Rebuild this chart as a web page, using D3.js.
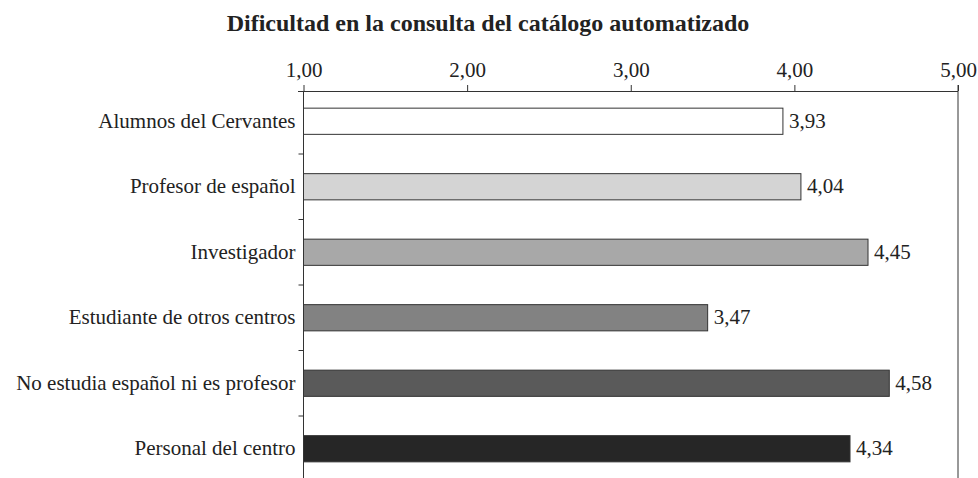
<!DOCTYPE html>
<html>
<head>
<meta charset="utf-8">
<script src="https://cdn.jsdelivr.net/npm/d3@7"></script>
<style>
  body { margin: 0; background: #fff; }
  text { font-family: "Liberation Serif", "Times New Roman", serif; fill: #222; }
</style>
</head>
<body>
<div id="chart"></div>
<script>
var categories = ["Alumnos del Cervantes", "Profesor de español", "Investigador",
                  "Estudiante de otros centros", "No estudia español ni es profesor",
                  "Personal del centro"];
var values = [3.93, 4.04, 4.45, 3.47, 4.58, 4.34];
var fills = ["#ffffff", "#d4d4d4", "#a8a8a8", "#828282", "#5a5a5a", "#262626"];
var tickValues = [1, 2, 3, 4, 5];
var title = "Dificultad en la consulta del catálogo automatizado";

var width = 978,
    height = 478;

var svg = d3.select("#chart").append("svg")
    .attr("width", width)
    .attr("height", height);

var x = d3.scaleLinear()
    .domain([1, 5])
    .range([303.5, 958]);

var y = d3.scaleBand()
    .domain(categories)
    .range([88.5, 481.5])
    .paddingInner(0.6)
    .paddingOuter(0.3);

var axisY = 91;

var fmt = function(d) { return d3.format(".2f")(d).replace(".", ","); };

// title
svg.append("text")
    .attr("x", 488)
    .attr("y", 31)
    .attr("text-anchor", "middle")
    .style("font-size", "24px")
    .style("font-weight", "bold")
    .text(title);

// top axis
var xAxis = d3.axisTop(x)
    .tickValues(tickValues)
    .tickSize(6)
    .tickPadding(8)
    .tickFormat(fmt);

var gx = svg.append("g")
    .attr("transform", "translate(0," + axisY + ")")
    .call(xAxis);
gx.select(".domain")
    .attr("d", "M298,0.5H" + x(5));
gx.selectAll("line").attr("stroke", "#333");
gx.select(".domain").attr("stroke", "#333");
gx.selectAll("text")
    .style("font-family", "'Liberation Serif', serif")
    .style("font-size", "21px")
    .attr("fill", "#222");

// left axis line and right frame line
svg.append("line")
    .attr("x1", x(1)).attr("x2", x(1))
    .attr("y1", axisY).attr("y2", height)
    .attr("stroke", "#333");

svg.append("line")
    .attr("x1", x(5)).attr("x2", x(5))
    .attr("y1", axisY - 6).attr("y2", height)
    .attr("stroke", "#333");

// small ticks between categories
var step = y.step();
svg.selectAll(".sep")
    .data(categories.slice(0, -1))
    .enter().append("line")
    .attr("class", "sep")
    .attr("x1", x(1) - 5).attr("x2", x(1))
    .attr("y1", function(d) { return y(d) + y.bandwidth() / 2 + step / 2; })
    .attr("y2", function(d) { return y(d) + y.bandwidth() / 2 + step / 2; })
    .attr("stroke", "#333");

// category labels
svg.selectAll(".cat")
    .data(categories)
    .enter().append("text")
    .attr("class", "cat")
    .attr("x", x(1) - 8)
    .attr("y", function(d) { return y(d) + y.bandwidth() / 2; })
    .attr("dy", "0.32em")
    .attr("text-anchor", "end")
    .style("font-size", "21px")
    .text(function(d) { return d; });

// bars
svg.selectAll(".bar")
    .data(values)
    .enter().append("rect")
    .attr("class", "bar")
    .attr("x", x(1))
    .attr("y", function(d, i) { return y(categories[i]); })
    .attr("width", function(d) { return x(d) - x(1); })
    .attr("height", y.bandwidth())
    .attr("fill", function(d, i) { return fills[i]; })
    .attr("stroke", "#333")
    .attr("stroke-width", 1);

// value labels
svg.selectAll(".val")
    .data(values)
    .enter().append("text")
    .attr("class", "val")
    .attr("x", function(d) { return x(d) + 6; })
    .attr("y", function(d, i) { return y(categories[i]) + y.bandwidth() / 2; })
    .attr("dy", "0.32em")
    .style("font-size", "21px")
    .text(function(d) { return fmt(d); });
</script>
</body>
</html>
